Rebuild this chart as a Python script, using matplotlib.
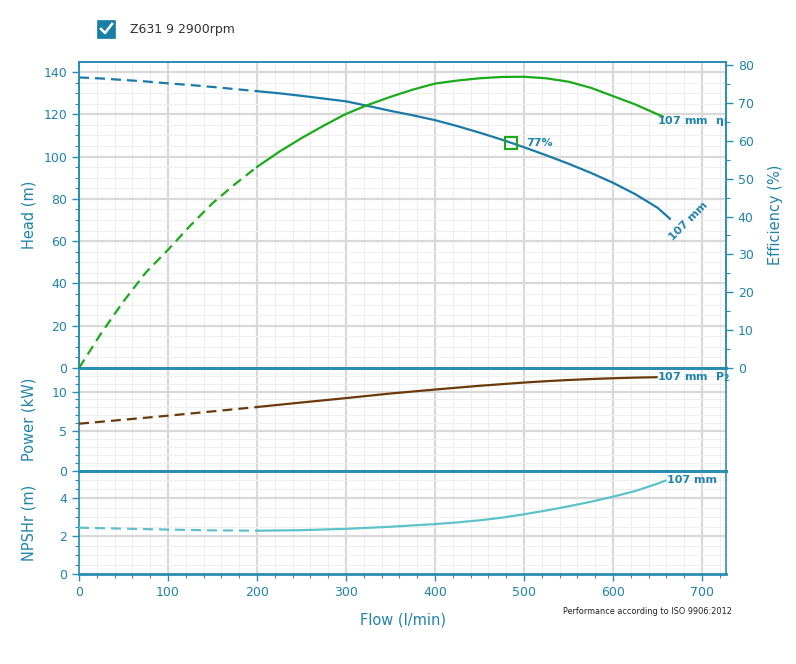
import matplotlib
matplotlib.use("Agg")
import matplotlib.pyplot as plt
from matplotlib.ticker import MultipleLocator
from matplotlib.patches import Rectangle
from matplotlib.lines import Line2D

# ---------------- data ----------------
head_flow = [0, 25, 50, 75, 100, 125, 150, 175, 200, 225, 250, 275, 300, 325, 350, 375, 400,
             425, 450, 475, 500, 525, 550, 575, 600, 625, 650, 664]
head_vals = [137.4, 136.9, 136.2, 135.5, 134.6, 133.8, 132.9, 131.9, 130.9, 129.9, 128.7, 127.4,
             126.1, 123.9, 121.6, 119.5, 117.2, 114.4, 111.3, 108.0, 104.4, 100.6, 96.6, 92.3,
             87.6, 82.2, 75.8, 70.6]

eff_flow = [0, 25, 50, 75, 100, 125, 150, 175, 200, 225, 250, 275, 300, 325, 350, 375, 400,
            425, 450, 475, 500, 525, 550, 575, 600, 625, 650, 656]
eff_vals = [0, 9.2, 17.6, 25.2, 31.2, 37.6, 43.5, 48.5, 53.1, 57.1, 60.7, 64.0, 67.1, 69.5,
            71.6, 73.5, 75.1, 75.9, 76.5, 76.85, 76.9, 76.5, 75.6, 74.0, 71.8, 69.6, 67.0, 66.4]

pow_flow = [0, 50, 100, 150, 200, 250, 300, 350, 400, 450, 500, 525, 550, 575, 600, 625, 649]
pow_vals = [5.95, 6.45, 6.96, 7.5, 8.05, 8.62, 9.17, 9.75, 10.25, 10.72, 11.13, 11.3, 11.45,
            11.57, 11.67, 11.75, 11.8]

npsh_flow = [0, 50, 100, 150, 200, 250, 300, 350, 400, 425, 450, 475, 500, 525, 550, 575,
             600, 625, 650, 659]
npsh_vals = [2.45, 2.40, 2.35, 2.31, 2.29, 2.32, 2.39, 2.50, 2.64, 2.73, 2.84, 2.98, 3.16,
             3.36, 3.58, 3.82, 4.09, 4.39, 4.78, 4.94]

dash_limit = 200          # curves are dashed below this flow
op_flow, op_head, op_eff_label = 485, 106.5, "77%"
legend_text = "Z631 9 2900rpm"
curve_label = "107 mm"

# ---------------- style ----------------
TEAL = "#1f84ab"
SPINE = "#2a8db3"
HEAD_C = "#1a7aa8"
EFF_C = "#1aab1a"
POW_C = "#6b3a0c"
NPSH_C = "#5ec3c8"
GRID_MAJ = "#d9d9d9"
GRID_MIN = "#eeeeee"

W, H = 796, 664
fig = plt.figure(figsize=(W / 100, H / 100), dpi=100)


def ax_rect(top_px, bot_px):
    left = 79 / W
    width = (726 - 79) / W
    return [left, 1 - bot_px / H, width, (bot_px - top_px) / H]


ax_h = fig.add_axes(ax_rect(62, 368))
ax_p = fig.add_axes(ax_rect(368, 471), sharex=ax_h)
ax_n = fig.add_axes(ax_rect(471, 574), sharex=ax_h)
ax_e = ax_h.twinx()
for ax in (ax_p, ax_n):
    ax.patch.set_visible(False)


def split(flow, vals):
    lo_f = [f for f in flow if f <= dash_limit]
    lo_v = [v for f, v in zip(flow, vals) if f <= dash_limit]
    hi_f = [f for f in flow if f >= dash_limit]
    hi_v = [v for f, v in zip(flow, vals) if f >= dash_limit]
    return lo_f, lo_v, hi_f, hi_v


def draw_curve(ax, flow, vals, color, lw=1.6):
    lo_f, lo_v, hi_f, hi_v = split(flow, vals)
    ax.plot(lo_f, lo_v, color=color, lw=lw, linestyle=(0, (4.5, 2.7)), solid_capstyle="butt",
            solid_joinstyle="round", zorder=5)
    ax.plot(hi_f, hi_v, color=color, lw=lw, solid_joinstyle="round", zorder=5)


def style_axis(ax, ymax, major, minor):
    ax.set_xlim(0, 727)
    ax.set_ylim(0, ymax)
    ax.xaxis.set_major_locator(MultipleLocator(100))
    ax.xaxis.set_minor_locator(MultipleLocator(20))
    ax.yaxis.set_major_locator(MultipleLocator(major))
    ax.yaxis.set_minor_locator(MultipleLocator(minor))
    ax.grid(which="major", color=GRID_MAJ, lw=1.6, zorder=0)
    ax.grid(which="minor", color=GRID_MIN, lw=0.8, zorder=0)
    ax.set_axisbelow(True)
    for s in ax.spines.values():
        s.set_color(SPINE)
        s.set_linewidth(1.2)
    ax.spines["bottom"].set_linewidth(2.0)
    ax.tick_params(which="both", colors=SPINE, labelcolor=TEAL, labelsize=9, direction="out")
    ax.tick_params(which="major", length=5, width=1)
    ax.tick_params(which="minor", length=3, width=0.8)


style_axis(ax_h, 144.7, 20, 5)
style_axis(ax_p, 12.96, 5, 1)
style_axis(ax_n, 5.45, 2, 0.5)

for ax in (ax_h, ax_p):
    ax.tick_params(axis="x", which="both", bottom=False, labelbottom=False)
ax_p.spines["top"].set_visible(False)
# panel separators drawn by the lower panel's top spine (over its own grid)
ax_n.spines["top"].set_linewidth(2.0)

# efficiency axis
ax_e.set_ylim(0, 80.8)
ax_e.yaxis.set_major_locator(MultipleLocator(10))
ax_e.yaxis.set_minor_locator(MultipleLocator(5))
for s in ax_e.spines.values():
    s.set_color(SPINE)
    s.set_linewidth(1.2)
ax_e.spines["bottom"].set_linewidth(2.0)
ax_e.tick_params(which="both", colors=SPINE, labelcolor=TEAL, labelsize=9, direction="out")
ax_e.tick_params(which="major", length=5, width=1)
ax_e.tick_params(which="minor", length=3, width=0.8)

# curves
draw_curve(ax_h, head_flow, head_vals, HEAD_C)
draw_curve(ax_e, eff_flow, eff_vals, EFF_C)
draw_curve(ax_p, pow_flow, pow_vals, POW_C)
draw_curve(ax_n, npsh_flow, npsh_vals, NPSH_C)

# operating point
ax_e.plot([op_flow], [op_head * 80.8 / 144.7], marker="s", markersize=8, markerfacecolor="none",
          markeredgecolor=EFF_C, markeredgewidth=1.5, zorder=7)
ax_e.text(op_flow + 18, op_head * 80.8 / 144.7, op_eff_label, color=TEAL, fontsize=8,
          fontweight="bold", ha="left", va="center", zorder=8)

# curve labels
ax_e.text(649, 65.2, curve_label + r"  $\mathbf{\eta_P}$", color=TEAL, fontsize=8, fontweight="bold",
          ha="left", va="center", clip_on=True, zorder=8)
ax_e.text(667, 60 * 80.8 / 144.7, curve_label, color=TEAL, fontsize=8, fontweight="bold", rotation=45,
          rotation_mode="anchor", ha="left", va="baseline", zorder=8)
ax_p.text(649, 11.87, curve_label + r"  $\mathbf{P_2}$", color=TEAL, fontsize=8, fontweight="bold",
          ha="left", va="center", zorder=8, clip_on=False)
ax_n.text(661, 4.98, curve_label, color=TEAL, fontsize=8, fontweight="bold",
          ha="left", va="center", zorder=8)

# axis labels
lbl_kw = dict(color=TEAL, fontsize=10.5)
ax_h.set_ylabel("Head (m)", **lbl_kw)
ax_p.set_ylabel("Power (kW)", **lbl_kw)
ax_n.set_ylabel("NPSHr (m)", **lbl_kw)
for ax in (ax_h, ax_p, ax_n):
    ax.yaxis.set_label_coords(-42 / 647, 0.5)
ax_e.set_ylabel("Efficiency (%)", **lbl_kw)
ax_e.yaxis.set_label_coords((768 - 79) / 647, 0.5)

fig.text(403 / W, 1 - 620 / H, "Flow (l/min)", color=TEAL, fontsize=10.5, ha="center", va="center")
fig.text(732 / W, 1 - 612 / H, "Performance according to ISO 9906:2012", color="#222222",
         fontsize=5.9, ha="right", va="center")

# legend checkbox
fig.patches.append(Rectangle((97 / W, 1 - 38 / H), 18 / W, 18 / H, transform=fig.transFigure,
                             facecolor="#1a7fa6", edgecolor="#1a7fa6", lw=0.5))
fig.lines.append(Line2D([101 / W, 105 / W, 112 / W], [1 - 29 / H, 1 - 33 / H, 1 - 24 / H],
                        transform=fig.transFigure, color="white", lw=1.8))
fig.text(130 / W, 1 - 29 / H, legend_text, color="#333333", fontsize=9, ha="left", va="center")

fig.savefig("out.png", dpi=100)
